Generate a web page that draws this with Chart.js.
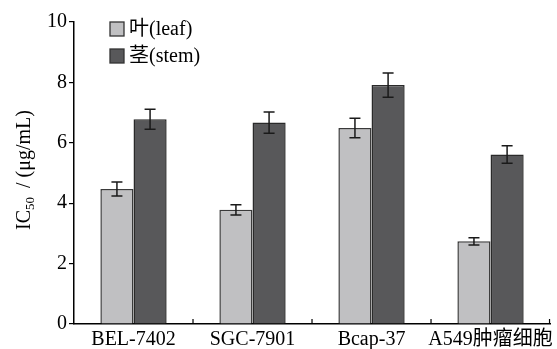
<!DOCTYPE html>
<html><head><meta charset="utf-8">
<script src="https://cdn.jsdelivr.net/npm/chart.js@4/dist/chart.umd.min.js"></script>
<style>html,body{margin:0;padding:0;background:#fff}#wrap{width:557px;height:349px}</style>
</head><body><div id="wrap"><canvas id="c" width="557" height="349"></canvas></div>
<script>
const categories = ['BEL-7402', 'SGC-7901', 'Bcap-37', 'A549肿瘤细胞'];
const leafValues = [4.47, 3.78, 6.49, 2.74];
const leafErrors = [0.23, 0.17, 0.32, 0.12];
const stemValues = [6.78, 6.67, 7.91, 5.61];
const stemErrors = [0.33, 0.35, 0.40, 0.29];
const seriesLabels = ['叶(leaf)', '茎(stem)'];
const yTicks = [0, 2, 4, 6, 8, 10];

const FONT = "'Liberation Serif', 'Times New Roman', 'Noto Sans CJK SC', serif";

const errorBars = {
  id: 'errorBars',
  afterDatasetsDraw(chart) {
    const ctx = chart.ctx, y = chart.scales.y;
    chart.data.datasets.forEach((ds, di) => {
      const meta = chart.getDatasetMeta(di);
      meta.data.forEach((bar, i) => {
        const v = ds.data[i], e = ds.errors[i];
        const yt = y.getPixelForValue(v + e), yb = y.getPixelForValue(v - e);
        ctx.save();
        ctx.strokeStyle = '#1a1a1a'; ctx.lineWidth = 1.5;
        ctx.beginPath();
        ctx.moveTo(bar.x, yt); ctx.lineTo(bar.x, yb);
        ctx.moveTo(bar.x - 5.5, yt); ctx.lineTo(bar.x + 5.5, yt);
        ctx.moveTo(bar.x - 5.5, yb); ctx.lineTo(bar.x + 5.5, yb);
        ctx.stroke();
        ctx.restore();
      });
    });
  }
};

const extras = {
  id: 'extras',
  afterDraw(chart) {
    const ctx = chart.ctx, x = chart.scales.x, area = chart.chartArea;
    const half = (x.getPixelForValue(1) - x.getPixelForValue(0)) / 2;
    ctx.save();
    ctx.strokeStyle = '#000'; ctx.lineWidth = 1.2;
    ctx.beginPath();
    for (let i = 0; i < categories.length; i++) {
      const px = Math.min(x.getPixelForValue(i) + half, area.right - 0.5);
      ctx.moveTo(px, area.bottom); ctx.lineTo(px, area.bottom - 5);
    }
    ctx.stroke();
    // legend
    ctx.font = '20px ' + FONT;
    ctx.textBaseline = 'middle';
    chart.data.datasets.forEach((ds, di) => {
      const by = 22 + di * 27;
      ctx.fillStyle = ds.backgroundColor;
      ctx.fillRect(110, by, 14, 14);
      ctx.strokeStyle = '#333'; ctx.lineWidth = 1.3;
      ctx.strokeRect(110, by, 14, 14);
      ctx.fillStyle = '#000';
      ctx.fillText(ds.label, 129, by + 8);
    });
    // y-axis title with subscript
    ctx.translate(23, 170);
    ctx.rotate(-Math.PI / 2);
    const p1 = 'IC', sub = '50', p2 = ' / (μg/mL)';
    ctx.font = '20px ' + FONT;
    const w1 = ctx.measureText(p1).width, w3 = ctx.measureText(p2).width;
    ctx.font = '13px ' + FONT;
    const w2 = ctx.measureText(sub).width;
    const total = w1 + w2 + w3 + 4;
    let sx = -total / 2;
    ctx.textBaseline = 'alphabetic';
    ctx.fillStyle = '#000';
    ctx.font = '20px ' + FONT;
    ctx.fillText(p1, sx, 7); sx += w1;
    ctx.font = '13px ' + FONT;
    ctx.fillText(sub, sx, 11); sx += w2 + 4;
    ctx.font = '20px ' + FONT;
    ctx.fillText(p2, sx, 7);
    ctx.restore();
  }
};

new Chart(document.getElementById('c'), {
  type: 'bar',
  data: {
    labels: categories,
    datasets: [
      { label: seriesLabels[0], data: leafValues, errors: leafErrors,
        backgroundColor: '#c0c0c2', borderColor: '#3a3a3a', borderWidth: 1.5,
        barPercentage: 1, categoryPercentage: 0.557 },
      { label: seriesLabels[1], data: stemValues, errors: stemErrors,
        backgroundColor: '#58585a', borderColor: '#2a2a2a', borderWidth: 1.5,
        barPercentage: 1, categoryPercentage: 0.557 }
    ]
  },
  options: {
    responsive: false, animation: false,
    layout: { padding: { top: 22, right: 2, left: 0, bottom: 0 } },
    plugins: { legend: { display: false }, tooltip: { enabled: false } },
    scales: {
      x: {
        grid: { display: false, drawTicks: false },
        border: { display: true, color: '#000', width: 1.5 },
        ticks: { color: '#000', font: { family: FONT, size: 20 }, padding: 4, maxRotation: 0, autoSkip: false },
        afterFit(s) { s.height = 25; }
      },
      y: {
        min: 0, max: 10,
        afterBuildTicks(s) { s.ticks = yTicks.map(v => ({ value: v })); },
        grid: { drawOnChartArea: false, drawTicks: true, tickLength: 5, color: '#000', lineWidth: 1.2 },
        border: { display: true, color: '#000', width: 1.5 },
        ticks: { color: '#000', font: { family: FONT, size: 20 }, padding: 2 },
        afterFit(s) { s.width = 74; }
      }
    }
  },
  plugins: [errorBars, extras]
});
</script></body></html>
